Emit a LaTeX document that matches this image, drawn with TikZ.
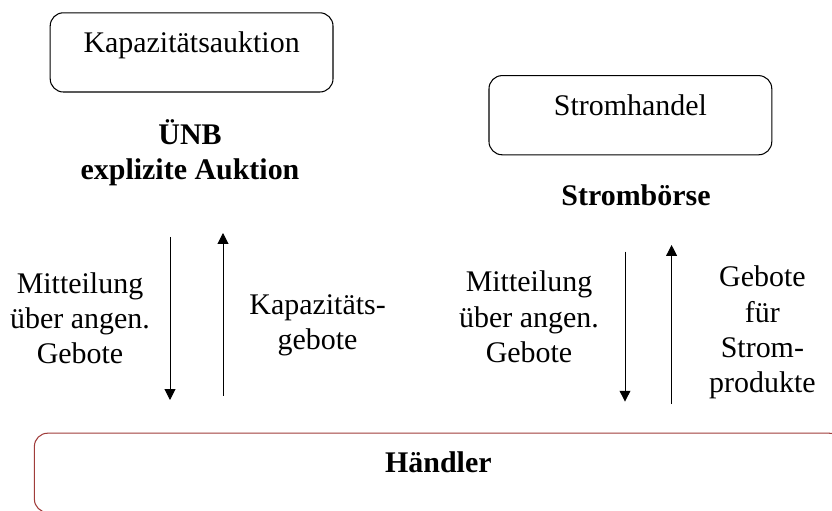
\documentclass[tikz,border=0pt]{standalone}
\usepackage{fontspec}
\setmainfont{Liberation Serif}
\usepackage{xcolor}
\usepackage{tikz}
\usetikzlibrary{arrows.meta, positioning}
\definecolor{haendlerrot}{RGB}{160,60,58}
\tikzset{
    rundbox/.style={draw, rounded corners=0.33cm, line width=0.75pt,
        minimum width=7.07cm, minimum height=1.98cm,
        text height=0.6cm, text depth=0.6cm, align=center},
    fluss/.style={line width=0.7pt, -{Triangle[length=0.27cm, width=0.27cm]}},
    beschr/.style={align=center}
}

\begin{document}
\begin{tikzpicture}[font=\fontsize{21.3}{25}\selectfont]
    \path[use as bounding box, clip] (0,0) rectangle (20.8,12.75);

    % Boxes oben
    \node[rundbox] (kapa) at (4.79,11.44) {Kapazitätsauktion};
    \node[rundbox] (strom) at (15.76,9.87) {Stromhandel};

    % Akteure
    \node[beschr, font=\fontsize{21.3}{25}\selectfont\bfseries] (uenb) at (4.75,8.94) {ÜNB\\explizite Auktion};
    \node[beschr, font=\fontsize{21.3}{25}\selectfont\bfseries] (boerse) at (15.9,7.875) {Strombörse};

    % Haendler
    \node[rundbox, draw=haendlerrot, minimum width=20.2cm, font=\fontsize{21.3}{25}\selectfont\bfseries]
        (haendler) at (10.96,0.93) {Händler};

    % Pfeile links
    \coordinate (lab) at (4.25,6.83);
    \coordinate (lan) at (4.25,2.75);
    \coordinate (lun) at (5.575,2.85);
    \coordinate (lob) at (5.575,6.925);
    \draw[fluss] (lab) -- (lan);
    \draw[fluss] (lun) -- (lob);
    \node[beschr] (mitt1) at (2.0,4.8) {Mitteilung\\über angen.\\Gebote};
    \node[beschr] (kapgeb) at (7.94,4.625) {Kapazitäts-\\gebote};

    % Pfeile rechts
    \coordinate (rab) at (15.625,6.46);
    \coordinate (ran) at (15.625,2.71);
    \coordinate (run) at (16.79,2.65);
    \coordinate (rob) at (16.79,6.625);
    \draw[fluss] (rab) -- (ran);
    \draw[fluss] (run) -- (rob);
    \node[beschr] (mitt2) at (13.225,4.83) {Mitteilung\\über angen.\\Gebote};
    \node[beschr] (stromgeb) at (19.06,4.44) {Gebote\\für\\Strom-\\produkte};
\end{tikzpicture}
\end{document}
